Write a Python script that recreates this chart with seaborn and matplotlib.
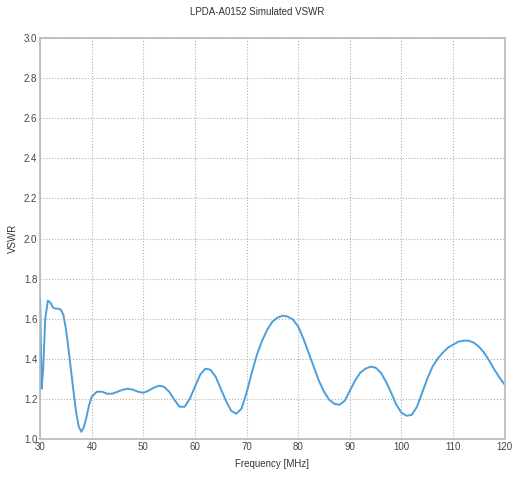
import numpy as np
import pandas as pd
import matplotlib
matplotlib.use("Agg")
import matplotlib.pyplot as plt
import seaborn as sns

# values
freq_mhz = [30.0, 30.3, 30.6, 31.0, 31.5, 32.0, 32.5, 33.0, 33.5, 34.0, 34.5,
            35.0, 35.5, 36.0, 36.5, 37.0, 37.5, 38.0, 38.5, 39.0, 39.5, 40.0,
            41, 42, 43, 44, 45, 46, 47, 48, 49, 50, 51, 52, 53, 54, 55, 56,
            57, 58, 59, 60, 61, 62, 63, 64, 65, 66, 67, 68, 69, 70, 71, 72,
            73, 74, 75, 76, 77, 78, 79, 80, 81, 82, 83, 84, 85, 86, 87, 88,
            89, 90, 91, 92, 93, 94, 95, 96, 97, 98, 99, 100, 101, 102, 103,
            104, 105, 106, 107, 108, 109, 110, 111, 112, 113, 114, 115, 116,
            117, 118, 119, 120]
vswr = [1.70, 1.25, 1.35, 1.60, 1.69, 1.68, 1.655, 1.65, 1.65, 1.645, 1.62,
        1.55, 1.45, 1.34, 1.23, 1.13, 1.06, 1.035, 1.06, 1.11, 1.17, 1.21,
        1.235, 1.235, 1.225, 1.225, 1.235, 1.245, 1.25, 1.245, 1.235, 1.23,
        1.24, 1.255, 1.265, 1.26, 1.235, 1.195, 1.16, 1.16, 1.20, 1.26,
        1.32, 1.35, 1.345, 1.31, 1.25, 1.19, 1.14, 1.125, 1.15, 1.23, 1.33,
        1.42, 1.49, 1.545, 1.585, 1.605, 1.615, 1.61, 1.595, 1.56, 1.50,
        1.43, 1.36, 1.29, 1.235, 1.195, 1.175, 1.17, 1.19, 1.24, 1.29, 1.33,
        1.35, 1.36, 1.355, 1.33, 1.285, 1.23, 1.17, 1.13, 1.115, 1.12, 1.16,
        1.23, 1.30, 1.36, 1.40, 1.43, 1.455, 1.47, 1.485, 1.49, 1.49, 1.48,
        1.46, 1.43, 1.39, 1.345, 1.305, 1.27]
x_ticks = [30, 40, 50, 60, 70, 80, 90, 100, 110, 120]
y_ticks = [1.0, 1.2, 1.4, 1.6, 1.8, 2.0, 2.2, 2.4, 2.6, 2.8, 3.0]

df = pd.DataFrame({"Frequency": freq_mhz, "VSWR": vswr})

sns.set_theme(style="white")
plt.rcParams["font.family"] = ["Liberation Sans", "DejaVu Sans"]

fig = plt.figure(figsize=(5.14, 4.78), dpi=100)
ax = fig.add_axes([0.078, 0.082, 0.904, 0.838])

sns.lineplot(data=df, x="Frequency", y="VSWR", ax=ax, color="#4c9fdb",
             linewidth=1.4, estimator=None, sort=False)

ax.set_xlim(30, 120)
ax.set_ylim(1.0, 3.0)
ax.set_xticks(x_ticks)
ax.set_yticks(y_ticks)
ax.set_yticklabels([f"{v:.1f}" for v in y_ticks])
ax.tick_params(axis="both", labelsize=7, length=0, pad=2, colors="#444444")
ax.grid(True, linestyle=":", color="#b0b0b0", linewidth=0.8)

for sp in ax.spines.values():
    sp.set_color("#b8b8b8")
    sp.set_linewidth(1.2)

ax.set_xlabel("Frequency [MHz]", fontsize=7, color="#333333", labelpad=5)
ax.set_ylabel("VSWR", fontsize=7, color="#333333", labelpad=4)
fig.text(0.5, 0.975, "LPDA-A0152 Simulated VSWR", ha="center", va="center",
         fontsize=7, color="#333333")

fig.savefig("out.png", dpi=100)
plt.close(fig)
